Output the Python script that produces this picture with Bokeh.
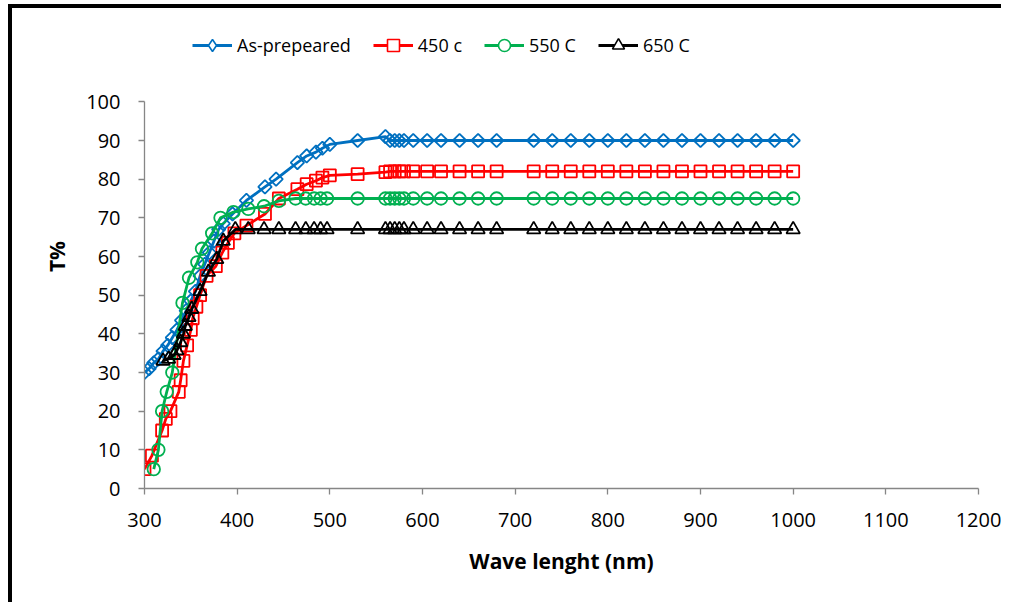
import math
from bokeh.plotting import figure
from bokeh.models import Legend, LegendItem, FixedTicker, Range1d
from bokeh.embed import file_html
from bokeh.resources import INLINE

# ---- data ----
plateau_x = [560, 565, 570, 575, 580, 590, 605, 620, 640, 660, 680, 720, 740, 760, 780,
             800, 820, 840, 860, 880, 900, 920, 940, 960, 980, 1000]

asprep_x = [300, 305, 310, 315, 320, 325, 330, 335, 340, 345, 350, 355, 360, 365, 370, 375,
            380, 385, 395, 410, 430, 442, 465, 475, 485, 492, 500, 530] + plateau_x
asprep_y = [30, 31, 32.5, 33.5, 35.5, 37, 39, 41, 43.5, 46, 48.5, 51, 55, 58, 61, 64,
            67, 68.5, 71, 74.5, 78, 80, 84.3, 86, 87, 88, 89, 90,
            91, 90, 90, 90, 90, 90, 90, 90, 90, 90, 90, 90, 90, 90, 90,
            90, 90, 90, 90, 90, 90, 90, 90, 90, 90, 90]

c450_x = [300, 308, 319, 323, 328, 337, 339, 342, 346, 350, 352, 356, 360, 367, 377, 384,
          390, 397, 410, 430, 445, 465, 475, 485, 492, 500, 530] + plateau_x
c450_y = [5, 8.5, 15, 18, 20, 25, 28, 33, 37, 41, 44, 47, 50, 55, 57.5, 61,
          63.5, 66, 68, 71, 75, 77.4, 78.7, 79.6, 80.4, 81, 81.3,
          81.8, 82, 82, 82, 82, 82, 82, 82, 82, 82, 82, 82, 82, 82, 82,
          82, 82, 82, 82, 82, 82, 82, 82, 82, 82, 82]

c550_x = [310, 315, 319, 324, 330, 341, 348, 357, 362, 373, 382, 396, 412, 429, 445, 463,
          474, 483, 490, 497, 530] + plateau_x
c550_y = [5, 10, 20, 25, 30, 48, 54.5, 58.5, 62, 66, 70, 71.5, 72.3, 73, 74.4, 75,
          75, 75, 75, 75, 75,
          75, 75, 75, 75, 75, 75, 75, 75, 75, 75, 75, 75, 75, 75, 75,
          75, 75, 75, 75, 75, 75, 75, 75, 75, 75, 75]

c650_x = [320, 326, 332, 335, 339, 342, 344, 348, 351, 360, 369, 378, 385, 398, 412, 429,
          445, 463, 474, 483, 490, 497, 530] + plateau_x
c650_y = [33, 33.5, 34.5, 35.7, 37.8, 40, 42, 44.3, 46.4, 51, 56, 59.3, 64, 67, 67, 67,
          67, 67, 67, 67, 67, 67, 67,
          67, 67, 67, 67, 67, 67, 67, 67, 67, 67, 67, 67, 67, 67, 67,
          67, 67, 67, 67, 67, 67, 67, 67, 67, 67, 67]

series_names = ["As-prepeared", "450 c", "550 C", "650 C"]
x_ticks = [300, 400, 500, 600, 700, 800, 900, 1000, 1100, 1200]
y_ticks = [0, 10, 20, 30, 40, 50, 60, 70, 80, 90, 100]

FONT = "Open Sans"
AXIS_GRAY = "#868686"

p = figure(width=993, height=598, output_backend="svg", toolbar_location=None,
           x_range=Range1d(300, 1200), y_range=Range1d(0, 120),
           min_border_left=132, min_border_right=27, min_border_top=16, min_border_bottom=118)
p.styles = {"border-left": "4px solid black", "border-top": "4px solid black",
            "margin-left": "8px", "margin-top": "4px"}
p.outline_line_color = None
p.xgrid.grid_line_color = None
p.ygrid.grid_line_color = None

for ax in (p.xaxis[0], p.yaxis[0]):
    ax.axis_line_color = AXIS_GRAY
    ax.axis_line_width = 1.3
    ax.major_tick_line_color = AXIS_GRAY
    ax.major_tick_line_width = 1.3
    ax.major_tick_out = 6
    ax.major_tick_in = 0
    ax.minor_tick_line_color = None
    ax.major_label_text_font = FONT
    ax.major_label_text_font_size = "20px"
    ax.major_label_text_color = "black"
    ax.axis_label_text_font = FONT
    ax.axis_label_text_font_size = "21px"
    ax.axis_label_text_font_style = "bold"
    ax.axis_label_text_color = "black"

p.xaxis.ticker = FixedTicker(ticks=x_ticks)
p.yaxis.ticker = FixedTicker(ticks=y_ticks)
p.yaxis.bounds = (0, 100)
p.xaxis.axis_label = "Wave lenght (nm)"
p.yaxis.axis_label = "T%"
p.xaxis.major_label_standoff = 18
p.yaxis.major_label_standoff = 18
p.xaxis.axis_label_standoff = 17
p.yaxis.axis_label_standoff = 12

specs = [
    (asprep_x, asprep_y, "#0070C0", "square", 9.5, math.pi / 4, "diamond"),
    (c450_x, c450_y, "#FF0000", "square", 12, 0, "square"),
    (c550_x, c550_y, "#00B050", "circle", 12.5, 0, "circle"),
    (c650_x, c650_y, "#000000", "triangle", 13.5, 0, "triangle"),
]

items = []
for (xs, ys, col, mk, sz, ang, lmk), name in zip(specs, series_names):
    ln = p.line(xs, ys, line_color=col, line_width=2.8)
    p.scatter(xs, ys, marker=mk, size=sz, angle=ang, line_color=col,
              line_width=1.8, fill_color=None)
    # legend-only marker: a single placeholder outside the visible range
    lg = p.scatter(x=[0], y=[-50], marker=lmk, size=12, line_color=col,
                   line_width=1.6, fill_color="white")
    items.append(LegendItem(label=name, renderers=[ln, lg]))

legend = Legend(items=items, orientation="horizontal", location=(48, 428),
                border_line_color=None, background_fill_alpha=0,
                padding=0, margin=0, spacing=22, label_standoff=5,
                glyph_width=40, glyph_height=30,
                label_text_font=FONT, label_text_font_size="18px",
                label_text_color="black")
p.add_layout(legend, "center")

open("out.html", "w").write(file_html(p, INLINE))
